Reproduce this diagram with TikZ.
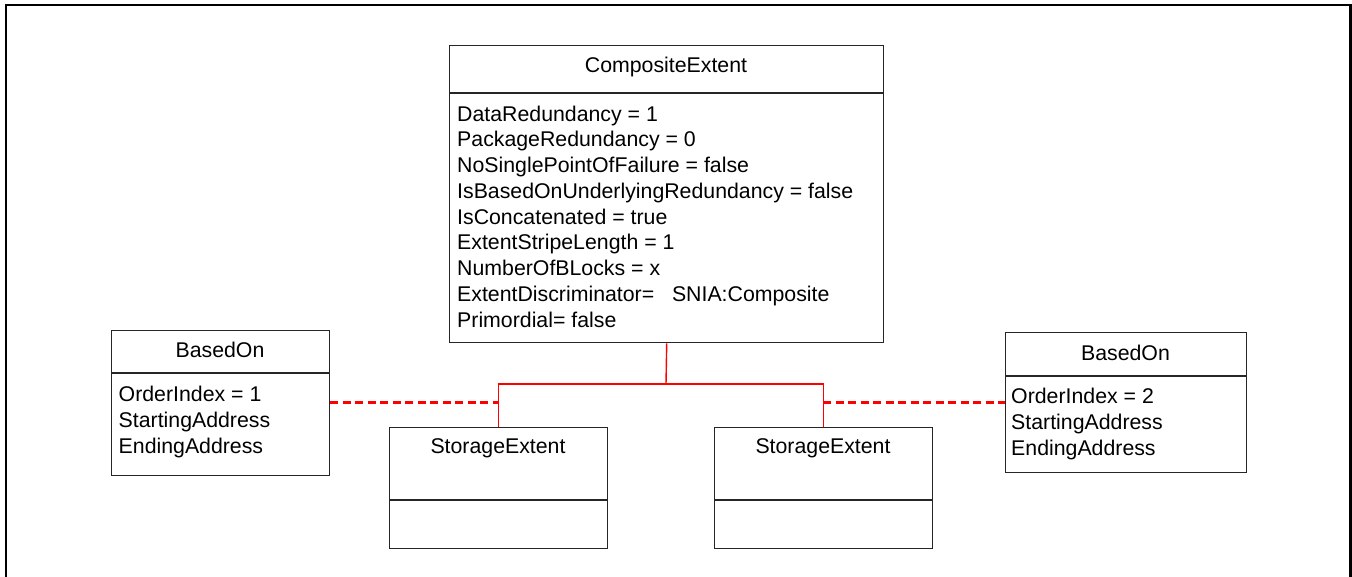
\documentclass[tikz,border=0pt]{standalone}
\usepackage{fontspec}
\setmainfont{Liberation Sans}
\begin{document}
\begin{tikzpicture}[x=1pt,y=-1pt,
  frameline/.style={line width=2.5pt, black},
  umlbox/.style={draw=black!85, line width=1.4pt, rectangle, inner sep=0pt, anchor=north west},
  divider/.style={draw=black!85, line width=1.4pt},
  lbl/.style={inner sep=0pt, font=\fontsize{21.3}{25.75}\selectfont, text=black},
  redline/.style={draw=red, line width=1.4pt},
  reddash/.style={draw=red, line width=3pt, dash pattern=on 8pt off 4.5pt}]
\useasboundingbox (0,0) rectangle (1352,576);
% outer frame (no bottom edge visible)
\draw[frameline] (6,577) -- (6,5) -- (1350.7,5) -- (1350.7,577);

% CompositeExtent
\node[umlbox, minimum width=434pt, minimum height=297pt] (comp) at (449,45) {};
\draw[divider] (449,93) -- (883,93);
\node[lbl, anchor=base] (comptitle) at (666,72) {CompositeExtent};
\foreach \t [count=\i from 0] in {DataRedundancy = 1, PackageRedundancy = 0, NoSinglePointOfFailure = false, IsBasedOnUnderlyingRedundancy = false, IsConcatenated = true, ExtentStripeLength = 1, NumberOfBLocks = x, {ExtentDiscriminator=\ \ \ SNIA:Composite}, Primordial= false}
  \node[lbl, anchor=base west] (ca\i) at (457,121+25.75*\i) {\t};

% BasedOn left
\node[umlbox, minimum width=218pt, minimum height=145pt] (bo1) at (111,330) {};
\draw[divider] (111,373) -- (329,373);
\node[lbl, anchor=base] (bo1title) at (220,357.5) {BasedOn};
\foreach \t [count=\i from 0] in {OrderIndex = 1, StartingAddress, EndingAddress}
  \node[lbl, anchor=base west] (ba\i) at (118.5,401.7+25.75*\i) {\t};

% BasedOn right
\node[umlbox, minimum width=241pt, minimum height=140pt] (bo2) at (1005,332) {};
\draw[divider] (1005,376) -- (1246,376);
\node[lbl, anchor=base] (bo2title) at (1125.5,360) {BasedOn};
\foreach \t [count=\i from 0] in {OrderIndex = 2, StartingAddress, EndingAddress}
  \node[lbl, anchor=base west] (bb\i) at (1011,403.5+25.75*\i) {\t};

% StorageExtent left
\node[umlbox, minimum width=218pt, minimum height=121pt] (se1) at (389,427) {};
\draw[divider] (389,500) -- (607,500);
\node[lbl, anchor=base] (se1title) at (498,453.5) {StorageExtent};

% StorageExtent right
\node[umlbox, minimum width=218pt, minimum height=121pt] (se2) at (714,427) {};
\draw[divider] (714,500) -- (932,500);
\node[lbl, anchor=base] (se2title) at (823,453.5) {StorageExtent};

% tree connectors
\coordinate (jn) at (666,384);
\draw[redline] (comp.south) -- (jn);
\draw[redline] (se1.north) |- (jn) -| (se2.north);

% dashed association lines
\coordinate (d1) at (498,402);
\coordinate (d2) at (823,402);
\draw[reddash] (bo1.east |- d1) -- (d1);
\draw[reddash] (d2) -- (bo2.west |- d2);
\end{tikzpicture}
\end{document}
